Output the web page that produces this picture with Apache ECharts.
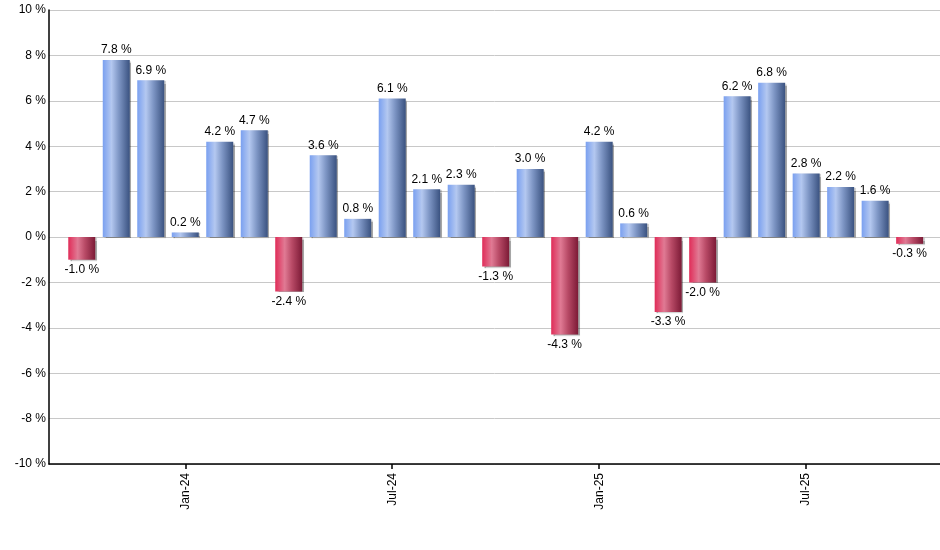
<!DOCTYPE html>
<html>
<head>
<meta charset="utf-8">
<script src="https://cdn.jsdelivr.net/npm/echarts@6/dist/echarts.min.js"></script>
<style>
html,body{margin:0;padding:0;background:#fff;}
#chart{width:940px;height:550px;}
</style>
</head>
<body>
<div id="chart"></div>
<script>
const categories = ['Oct-23','Nov-23','Dec-23','Jan-24','Feb-24','Mar-24','Apr-24','May-24','Jun-24','Jul-24','Aug-24','Sep-24','Oct-24','Nov-24','Dec-24','Jan-25','Feb-25','Mar-25','Apr-25','May-25','Jun-25','Jul-25','Aug-25','Sep-25','Oct-25'];
const values = [-1.0, 7.8, 6.9, 0.2, 4.2, 4.7, -2.4, 3.6, 0.8, 6.1, 2.1, 2.3, -1.3, 3.0, -4.3, 4.2, 0.6, -3.3, -2.0, 6.2, 6.8, 2.8, 2.2, 1.6, -0.3];
const tickIndices = [3, 9, 15, 21];
const yTicks = { min: -10, max: 10, interval: 2 };

const blueGrad = new echarts.graphic.LinearGradient(0, 0, 1, 0, [
  { offset: 0, color: '#7aa0f0' },
  { offset: 0.32, color: '#b4c8f0' },
  { offset: 0.6, color: '#7d95c4' },
  { offset: 1, color: '#3a5280' }
]);
const redGrad = new echarts.graphic.LinearGradient(0, 0, 1, 0, [
  { offset: 0, color: '#e02c58' },
  { offset: 0.35, color: '#e07a94' },
  { offset: 0.62, color: '#b84a66' },
  { offset: 1, color: '#7c1a36' }
]);

const data = values.map((v, i) => ({
  value: [i, v],
  itemStyle: { color: v >= 0 ? blueGrad : redGrad },
  label: { position: v >= 0 ? 'top' : 'bottom' }
}));

const chart = echarts.init(document.getElementById('chart'), null, { renderer: 'canvas' });
chart.setOption({
  animation: false,
  backgroundColor: '#ffffff',
  textStyle: { fontFamily: 'Liberation Sans, Arial, sans-serif' },
  grid: { left: 49, right: 0, top: 10, bottom: 86, containLabel: false },
  xAxis: {
    type: 'value',
    min: -0.95,
    max: 24.88,
    splitLine: { show: false },
    axisLine: { show: true, onZero: false, lineStyle: { color: '#000', width: 1.5 } },
    axisTick: { show: true, length: 5, lineStyle: { color: '#000', width: 1.5 }, customValues: tickIndices },
    axisLabel: {
      customValues: tickIndices,
      rotate: 90,
      margin: 9,
      color: '#000',
      fontSize: 12,
      fontFamily: 'Liberation Sans, Arial, sans-serif',
      formatter: v => categories[Math.round(v)]
    }
  },
  yAxis: {
    type: 'value',
    min: yTicks.min,
    max: yTicks.max,
    interval: yTicks.interval,
    axisLine: { show: true, onZero: false, lineStyle: { color: '#000', width: 1.5 } },
    axisTick: { show: false },
    splitLine: { show: true, lineStyle: { color: '#c8c8c8', width: 1 } },
    axisLabel: {
      margin: 3,
      color: '#000',
      fontSize: 12,
      fontFamily: 'Liberation Sans, Arial, sans-serif',
      formatter: v => v + ' %'
    }
  },
  series: [{
    type: 'bar',
    barWidth: 27,
    data: data,
    itemStyle: {
      shadowColor: 'rgba(0,0,0,0.35)',
      shadowOffsetX: 1.5,
      shadowOffsetY: 1,
      shadowBlur: 1
    },
    label: {
      show: true,
      distance: 4,
      color: '#000',
      fontSize: 12,
      fontFamily: 'Liberation Sans, Arial, sans-serif',
      formatter: p => p.value[1].toFixed(1) + ' %'
    }
  }]
});
</script>
</body>
</html>
